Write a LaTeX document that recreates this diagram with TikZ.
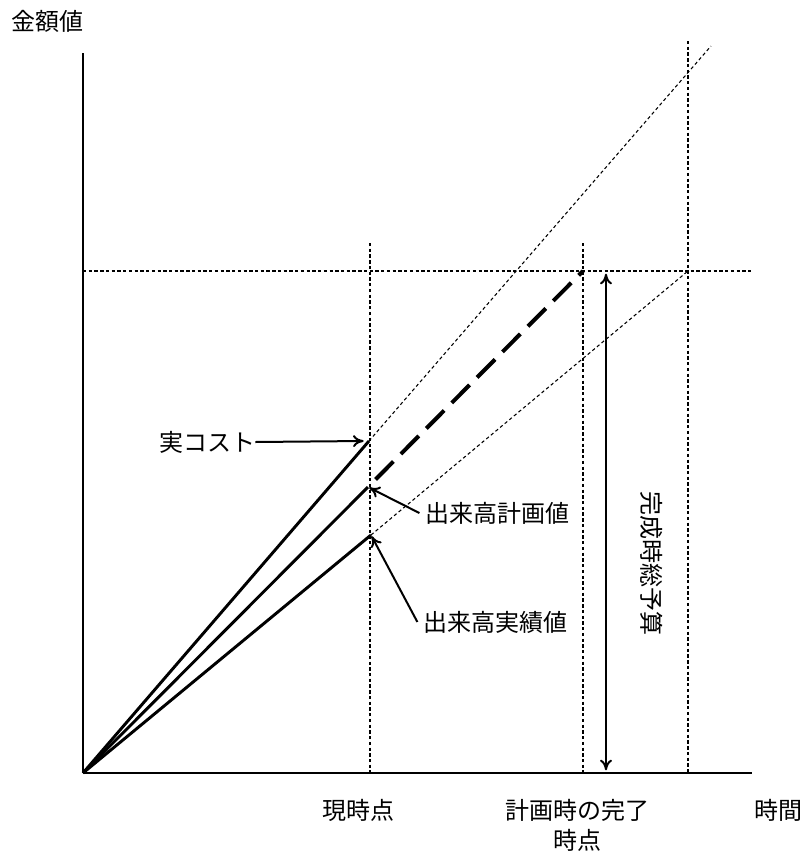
\documentclass[tikz,border=0pt]{standalone}
\usepackage{fontspec}
\setmainfont{Noto Sans CJK JP}
\usetikzlibrary{arrows.meta}
\tikzset{>={To[length=8pt,width=9pt]}}

\begin{document}
\begin{tikzpicture}[
    x=0.75pt, y=-0.75pt,
    every node/.style={font=\fontsize{18}{22.5}\selectfont, inner sep=0pt},
    axis/.style={line width=1.8pt},
    guide/.style={line width=1pt, dash pattern=on 2.5pt off 1.8pt},
    trend/.style={line width=0.8pt, dash pattern=on 2.5pt off 2pt},
    value/.style={line width=2.2pt},
    forecast/.style={line width=3pt, dash pattern=on 19pt off 8pt, dash phase=19pt},
    pointer/.style={->, line width=1.5pt}
]
    \useasboundingbox (0,0) rectangle (805,851);

    % Points
    \coordinate (O) at (83,773);
    \coordinate (ytop) at (83,53);
    \coordinate (xend) at (752,773);
    \coordinate (AC) at (369,441);
    \coordinate (PV) at (368,487);
    \coordinate (EV) at (371,535);
    \coordinate (BAC) at (583,271);
    \coordinate (ETC) at (688,271);
    \coordinate (EAC) at (711,46);
    \coordinate (budgetL) at (83,271);
    \coordinate (budgetR) at (752,271);
    \coordinate (nowTop) at (370,243);
    \coordinate (nowBot) at (370,773);
    \coordinate (planTop) at (583,243);
    \coordinate (planBot) at (583,773);
    \coordinate (endTop) at (688,41);
    \coordinate (endBot) at (688,773);
    \coordinate (bacTop) at (606,271);
    \coordinate (bacBot) at (606,773);

    % Nodes
    \node (ylabel) at (48,21) {金額値};
    \node (xlabel) at (778,810) {時間};
    \node (nowlabel) at (358,810) {現時点};
    \node (planlabel) [align=center] at (577,825) {計画時の完了\\時点};
    \node (aclabel) at (207,442) {実コスト};
    \node (pvlabel) at (497,513) {出来高計画値};
    \node (evlabel) at (495,622) {出来高実績値};
    \node (baclabel) [rotate=-90] at (652,563) {完成時総予算};

    % Axes
    \draw[line width=1.1pt] (O) -- (ytop);
    \draw[axis] (O) -- (xend);

    % Guides
    \draw[guide] (budgetL) -- (budgetR);
    \draw[guide] (nowTop) -- (nowBot);
    \draw[guide] (planTop) -- (planBot);
    \draw[guide] (endTop) -- (endBot);
    \draw[trend] (AC) -- (EAC);
    \draw[trend] (EV) -- (ETC);

    % Values
    \draw[value] (O) -- (AC);
    \draw[value] (O) -- (PV);
    \draw[value] (O) -- (EV);
    \draw[forecast] (PV) -- (BAC);

    % Arrows
    \draw[pointer] (aclabel.east) -- ([xshift=-4pt]AC);
    \draw[pointer, shorten >=1pt] ([xshift=-4pt]pvlabel.west) -- (PV);
    \draw[pointer, shorten >=1pt] ([xshift=-4pt]evlabel.west) -- (EV);
    \draw[pointer, <->, shorten <=2pt, shorten >=2pt] (bacTop) -- (bacBot);
\end{tikzpicture}
\end{document}
